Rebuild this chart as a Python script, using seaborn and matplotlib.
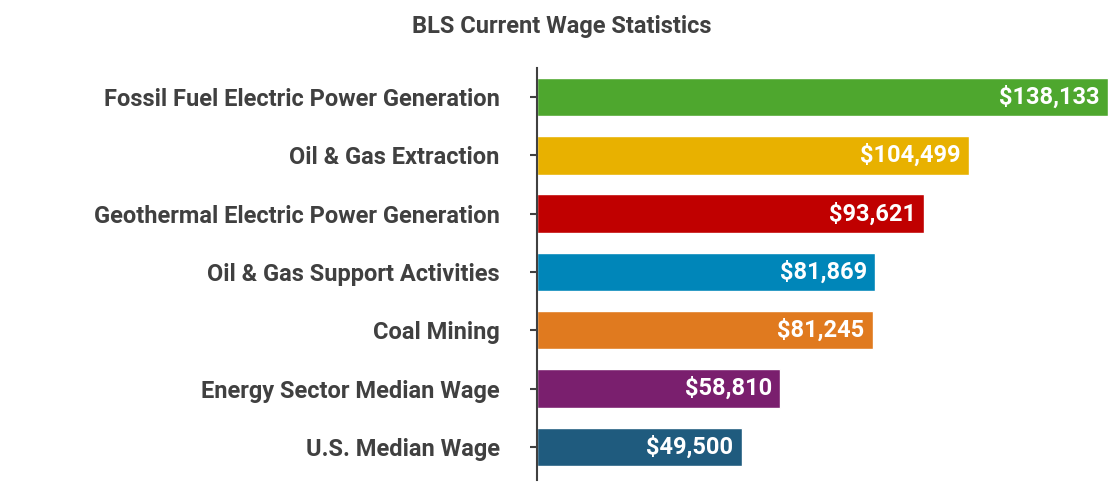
import matplotlib
matplotlib.use("Agg")
import matplotlib.pyplot as plt
import seaborn as sns
import pandas as pd

categories = ["Fossil Fuel Electric Power Generation", "Oil & Gas Extraction",
              "Geothermal Electric Power Generation", "Oil & Gas Support Activities",
              "Coal Mining", "Energy Sector Median Wage", "U.S. Median Wage"]
wages = [138133, 104499, 93621, 81869, 81245, 58810, 49500]
colors = ["#4ea72e", "#e8b100", "#c00000", "#0086b9", "#e07a1f", "#7a1f6e", "#1f5b7e"]

sns.set_theme(style="white")
plt.rcParams['font.family'] = ['Roboto', 'DejaVu Sans']
df = pd.DataFrame({"cat": categories, "wage": wages})

fig = plt.figure(figsize=(11.13, 5.0), dpi=100)
ax = fig.add_axes([0.4825, 0.04, 0.515, 0.824])
sns.barplot(data=df, x="wage", y="cat", hue="cat", palette=colors, legend=False,
            width=0.66, ax=ax, saturation=1)
ax.set_xlim(0, 138700)
ax.set_ylim(6.57, -0.5)
ax.set_xlabel(""); ax.set_ylabel("")
ax.set_xticks([])
for s in ["top", "right", "bottom"]:
    ax.spines[s].set_visible(False)
ax.spines["left"].set_color("#404040")
ax.spines["left"].set_linewidth(1.5)
ax.tick_params(axis="y", length=5, width=1.5, color="#404040", left=True, pad=22)
for lab in ax.get_yticklabels():
    lab.set_fontsize(17); lab.set_fontweight("bold"); lab.set_color("#404040")
for i, w in enumerate(wages):
    ax.text(w - 2000, i, f"${w:,}", ha="right", va="center", color="white",
            fontsize=17, fontweight="bold")
fig.text(0.505, 0.948, "BLS Current Wage Statistics", ha="center", va="center",
         fontsize=17, fontweight="bold", color="#404040")
fig.savefig("out.png", dpi=100)
